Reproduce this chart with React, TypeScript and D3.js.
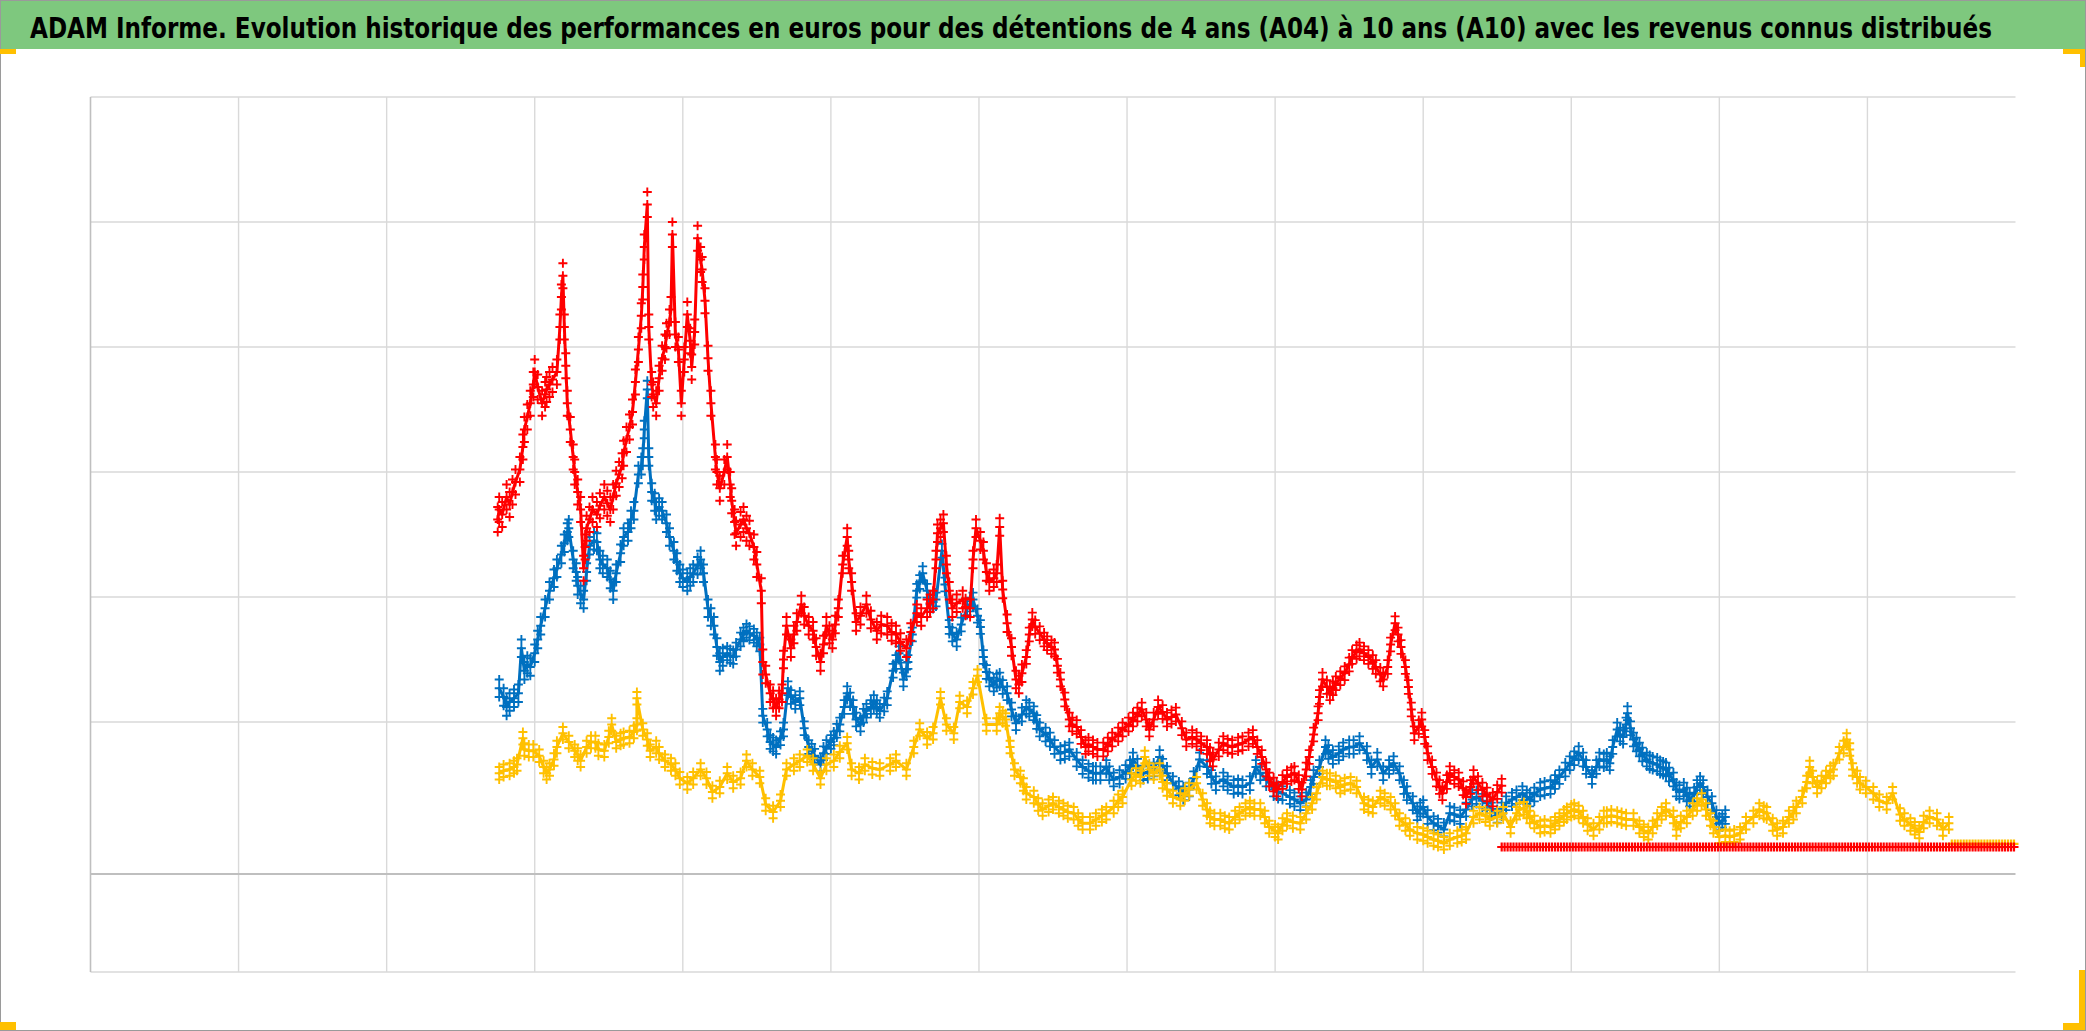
import React, { useEffect } from "react";
import * as d3 from "d3";

const TITLE =
  "ADAM Informe. Evolution historique des performances en euros pour des détentions de 4 ans (A04) à 10 ans (A10) avec les revenus connus distribués";

// x in period units (one vertical gridline per unit), y in value units
const X_DOMAIN: [number, number] = [0, 13];
const Y_DOMAIN: [number, number] = [-1, 6];
const X_GRID = [1, 2, 3, 4, 5, 6, 7, 8, 9, 10, 11, 12];
const Y_GRID = [-1, 1, 2, 3, 4, 5, 6];
const AXIS_VALUE = -0.216;

const RED = "#FF0000";
const BLUE = "#0070C0";
const YELLOW = "#FFC000";

// A10 (red)
const A10: [number, number][] = [
  [2.75,2.62],[2.76,2.70],[2.78,2.66],[2.81,2.80],[2.83,2.74],[2.85,2.84],[2.87,2.92],[2.90,3.02],[2.92,3.20],[2.93,3.34],
  [2.95,3.44],[2.97,3.55],[2.99,3.70],[3.00,3.80],[3.02,3.68],[3.05,3.55],[3.07,3.62],[3.08,3.66],[3.10,3.70],[3.12,3.74],
  [3.15,3.80],[3.17,4.16],[3.18,4.40],[3.19,4.57],[3.20,4.16],[3.21,3.85],[3.22,3.55],[3.24,3.34],[3.26,3.12],[3.27,3.00],
  [3.29,2.84],[3.31,2.70],[3.33,2.23],[3.34,2.40],[3.35,2.55],[3.37,2.62],[3.39,2.70],[3.42,2.66],[3.44,2.73],[3.47,2.80],
  [3.49,2.75],[3.51,2.70],[3.53,2.80],[3.55,2.91],[3.57,2.98],[3.59,3.05],[3.60,3.15],[3.62,3.26],[3.64,3.36],[3.66,3.48],
  [3.68,3.72],[3.70,3.98],[3.72,4.25],[3.73,4.48],[3.74,4.80],[3.76,5.14],[3.77,4.16],[3.79,3.70],[3.80,3.62],[3.82,3.55],
  [3.84,3.75],[3.86,3.91],[3.88,4.00],[3.89,4.09],[3.91,4.20],[3.92,4.30],[3.93,4.90],[3.95,4.10],[3.97,3.98],[3.99,3.55],
  [4.01,3.90],[4.03,4.26],[4.05,4.05],[4.06,3.84],[4.08,4.12],[4.10,4.87],[4.12,4.70],[4.13,4.62],[4.15,4.37],[4.17,3.91],
  [4.19,3.55],[4.22,3.12],[4.23,3.00],[4.25,2.87],[4.28,3.00],[4.30,3.12],[4.32,2.90],[4.33,2.77],[4.35,2.60],[4.36,2.51],
  [4.39,2.58],[4.41,2.62],[4.43,2.55],[4.45,2.51],[4.48,2.40],[4.50,2.26],[4.53,2.05],[4.54,1.48],[4.56,1.38],[4.59,1.23],
  [4.61,1.18],[4.63,1.12],[4.65,1.18],[4.67,1.23],[4.68,1.50],[4.70,1.77],[4.73,1.59],[4.75,1.70],[4.77,1.80],[4.80,1.94],
  [4.82,1.85],[4.85,1.77],[4.88,1.73],[4.90,1.60],[4.93,1.48],[4.95,1.62],[4.97,1.77],[4.99,1.70],[5.01,1.66],[5.03,1.78],
  [5.05,1.91],[5.08,2.26],[5.11,2.48],[5.12,2.30],[5.14,2.12],[5.17,1.80],[5.20,1.85],[5.24,1.94],[5.27,1.82],[5.31,1.73],
  [5.34,1.78],[5.38,1.77],[5.41,1.72],[5.44,1.70],[5.47,1.64],[5.51,1.59],[5.54,1.72],[5.58,1.87],[5.61,1.84],[5.65,1.91],
  [5.67,1.95],[5.69,1.98],[5.71,2.30],[5.72,2.51],[5.74,2.55],[5.76,2.59],[5.78,2.26],[5.80,2.05],[5.82,1.91],[5.85,1.95],
  [5.89,1.98],[5.91,1.92],[5.94,1.91],[5.96,2.30],[5.98,2.55],[6.01,2.45],[6.03,2.37],[6.05,2.20],[6.07,2.12],[6.10,2.15],
  [6.12,2.19],[6.14,2.56],[6.16,2.06],[6.19,1.79],[6.22,1.60],[6.25,1.34],[6.27,1.30],[6.29,1.39],[6.32,1.52],[6.34,1.70],
  [6.36,1.82],[6.38,1.76],[6.41,1.71],[6.44,1.66],[6.46,1.63],[6.49,1.60],[6.51,1.58],[6.53,1.45],[6.55,1.34],[6.58,1.18],
  [6.61,1.02],[6.63,0.98],[6.66,0.96],[6.69,0.88],[6.72,0.80],[6.74,0.82],[6.77,0.80],[6.80,0.78],[6.84,0.78],[6.87,0.82],
  [6.90,0.86],[6.94,0.90],[6.97,0.94],[7.01,0.98],[7.04,1.02],[7.07,1.06],[7.10,1.10],[7.13,1.02],[7.15,0.94],[7.18,1.02],
  [7.21,1.12],[7.24,1.08],[7.27,1.02],[7.30,1.04],[7.33,1.06],[7.37,0.95],[7.40,0.86],[7.44,0.88],[7.47,0.86],[7.50,0.83],
  [7.54,0.80],[7.56,0.74],[7.58,0.70],[7.62,0.78],[7.65,0.83],[7.68,0.81],[7.71,0.80],[7.75,0.82],[7.78,0.83],[7.82,0.86],
  [7.85,0.88],[7.88,0.80],[7.91,0.72],[7.94,0.62],[7.96,0.54],[7.99,0.50],[8.01,0.46],[8.05,0.52],[8.08,0.56],[8.11,0.58],
  [8.13,0.59],[8.16,0.52],[8.18,0.46],[8.21,0.62],[8.23,0.72],[8.26,0.90],[8.29,1.07],[8.30,1.20],[8.32,1.34],[8.35,1.28],
  [8.37,1.23],[8.39,1.27],[8.41,1.31],[8.44,1.35],[8.47,1.39],[8.50,1.46],[8.52,1.52],[8.55,1.56],[8.57,1.58],[8.60,1.55],
  [8.63,1.52],[8.66,1.48],[8.68,1.44],[8.71,1.38],[8.73,1.34],[8.76,1.44],[8.78,1.62],[8.81,1.79],[8.83,1.70],[8.85,1.60],
  [8.88,1.44],[8.90,1.28],[8.92,1.10],[8.94,0.91],[8.97,0.96],[8.99,1.02],[9.01,0.88],[9.03,0.75],[9.06,0.64],[9.09,0.54],
  [9.11,0.48],[9.13,0.43],[9.16,0.52],[9.18,0.59],[9.21,0.56],[9.24,0.54],[9.27,0.47],[9.29,0.40],[9.32,0.48],[9.34,0.56],
  [9.37,0.51],[9.40,0.46],[9.43,0.42],[9.47,0.38],[9.50,0.44],[9.53,0.49],
];

// A07 (blue)
const A07: [number, number][] = [
  [2.76,1.27],[2.79,1.20],[2.81,1.12],[2.83,1.16],[2.86,1.19],[2.89,1.23],[2.91,1.59],[2.93,1.41],[2.95,1.46],[2.97,1.44],
  [3.00,1.55],[3.02,1.66],[3.04,1.77],[3.07,1.91],[3.10,2.05],[3.13,2.15],[3.15,2.23],[3.18,2.34],[3.20,2.43],[3.22,2.52],
  [3.23,2.55],[3.26,2.30],[3.28,2.20],[3.29,2.09],[3.31,2.02],[3.33,1.98],[3.35,2.20],[3.37,2.41],[3.40,2.45],[3.42,2.44],
  [3.44,2.30],[3.46,2.26],[3.49,2.23],[3.51,2.14],[3.53,2.05],[3.55,2.19],[3.58,2.35],[3.60,2.48],[3.63,2.52],[3.65,2.62],
  [3.67,2.69],[3.70,2.98],[3.72,3.05],[3.73,3.12],[3.74,3.34],[3.76,3.66],[3.77,3.12],[3.79,2.84],[3.81,2.76],[3.82,2.69],
  [3.84,2.72],[3.86,2.69],[3.89,2.59],[3.91,2.48],[3.94,2.37],[3.96,2.28],[3.98,2.19],[4.00,2.15],[4.03,2.12],[4.05,2.16],
  [4.07,2.19],[4.10,2.25],[4.12,2.30],[4.14,2.19],[4.17,1.91],[4.19,1.84],[4.21,1.77],[4.23,1.60],[4.25,1.48],[4.27,1.52],
  [4.30,1.55],[4.32,1.53],[4.34,1.52],[4.36,1.58],[4.39,1.66],[4.41,1.70],[4.43,1.73],[4.45,1.71],[4.48,1.69],[4.50,1.66],
  [4.52,1.62],[4.54,1.05],[4.57,0.94],[4.59,0.84],[4.61,0.82],[4.63,0.80],[4.66,0.87],[4.68,0.94],[4.71,1.27],[4.73,1.20],
  [4.76,1.16],[4.79,1.19],[4.82,0.95],[4.85,0.80],[4.87,0.77],[4.89,0.73],[4.93,0.66],[4.95,0.75],[4.97,0.80],[5.00,0.84],
  [5.02,0.87],[5.04,0.93],[5.06,0.98],[5.09,1.12],[5.11,1.23],[5.13,1.18],[5.15,1.12],[5.17,1.02],[5.20,0.98],[5.22,1.05],
  [5.24,1.09],[5.27,1.12],[5.29,1.16],[5.31,1.12],[5.33,1.09],[5.36,1.14],[5.38,1.19],[5.42,1.41],[5.44,1.48],[5.46,1.55],
  [5.49,1.34],[5.51,1.42],[5.52,1.48],[5.55,1.70],[5.58,2.05],[5.60,2.12],[5.62,2.19],[5.65,2.05],[5.67,1.94],[5.69,1.96],
  [5.71,1.98],[5.75,2.37],[5.77,2.10],[5.80,1.76],[5.82,1.70],[5.85,1.66],[5.88,1.78],[5.92,1.91],[5.94,1.94],[5.96,1.98],
  [5.99,1.85],[6.01,1.76],[6.03,1.52],[6.05,1.40],[6.07,1.34],[6.10,1.30],[6.12,1.33],
  [6.14,1.34],[6.16,1.28],[6.19,1.23],[6.22,1.10],[6.25,0.99],[6.29,1.06],[6.32,1.12],[6.34,1.10],[6.37,1.07],[6.39,1.00],
  [6.41,0.94],[6.45,0.90],[6.48,0.86],[6.51,0.80],[6.55,0.75],[6.58,0.76],[6.61,0.78],[6.66,0.70],[6.70,0.64],[6.74,0.61],
  [6.77,0.59],[6.79,0.59],[6.82,0.59],[6.86,0.64],[6.88,0.59],[6.91,0.54],[6.95,0.56],[6.99,0.60],[7.02,0.64],[7.04,0.70],
  [7.07,0.65],[7.11,0.59],[7.14,0.60],[7.18,0.62],[7.22,0.72],[7.24,0.65],[7.27,0.59],[7.31,0.51],[7.35,0.47],[7.38,0.43],
  [7.42,0.46],[7.45,0.55],[7.49,0.70],[7.54,0.64],[7.57,0.56],[7.60,0.51],[7.65,0.54],[7.68,0.51],[7.72,0.48],[7.75,0.49],
  [7.78,0.48],[7.83,0.51],[7.87,0.64],[7.90,0.59],[7.94,0.54],[7.99,0.46],[8.02,0.44],[8.05,0.43],[8.10,0.40],[8.13,0.38],
  [8.17,0.35],[8.21,0.38],[8.24,0.48],[8.26,0.56],[8.30,0.64],[8.34,0.80],[8.36,0.76],[8.39,0.72],[8.43,0.75],[8.46,0.78],
  [8.50,0.80],[8.53,0.80],[8.57,0.83],[8.62,0.75],[8.65,0.64],[8.69,0.70],[8.73,0.59],[8.77,0.64],[8.80,0.67],[8.84,0.59],
  [8.87,0.48],[8.89,0.43],[8.93,0.35],[8.96,0.27],[8.98,0.30],[9.00,0.32],[9.03,0.24],[9.07,0.19],[9.10,0.17],[9.14,0.14],
  [9.18,0.27],[9.21,0.26],[9.25,0.24],[9.29,0.30],[9.33,0.38],[9.36,0.40],[9.40,0.37],[9.43,0.35],[9.46,0.30],[9.50,0.25],
  [9.53,0.30],[9.56,0.35],[9.60,0.38],[9.63,0.40],
  [9.67,0.43],[9.70,0.40],[9.72,0.38],[9.75,0.42],[9.79,0.46],[9.82,0.47],[9.86,0.48],[9.89,0.52],[9.92,0.56],[9.96,0.62],
  [9.99,0.67],[10.02,0.71],[10.05,0.75],[10.08,0.70],[10.10,0.64],[10.14,0.56],[10.17,0.64],[10.19,0.70],[10.22,0.69],[10.24,0.70],
  [10.26,0.67],[10.28,0.80],[10.31,0.94],[10.33,0.90],[10.35,0.88],[10.37,0.98],[10.38,1.07],[10.40,0.95],[10.42,0.86],[10.44,0.82],
  [10.46,0.78],[10.48,0.74],[10.51,0.70],[10.53,0.68],[10.55,0.67],[10.58,0.66],[10.60,0.64],[10.62,0.63],[10.64,0.62],[10.66,0.58],
  [10.69,0.54],[10.71,0.46],[10.73,0.44],[10.76,0.46],[10.78,0.42],[10.80,0.38],[10.83,0.42],[10.85,0.48],[10.87,0.51],[10.89,0.48],
  [10.92,0.40],[10.95,0.35],[10.98,0.24],[11.00,0.19],[11.02,0.21],[11.04,0.24],
];

// A04 (yellow)
const A04: [number, number][] = [
  [2.76,0.59],[2.79,0.61],[2.83,0.62],[2.86,0.64],[2.88,0.66],[2.92,0.87],[2.93,0.78],[2.96,0.77],[2.99,0.77],[3.03,0.73],
  [3.06,0.64],[3.08,0.59],[3.10,0.62],[3.13,0.70],[3.15,0.80],[3.19,0.91],[3.23,0.84],[3.27,0.77],[3.29,0.74],[3.31,0.69],
  [3.35,0.80],[3.38,0.84],[3.41,0.84],[3.43,0.78],[3.47,0.77],[3.50,0.88],[3.52,0.98],[3.55,0.84],[3.58,0.86],[3.60,0.87],
  [3.64,0.88],[3.67,0.92],[3.69,0.98],[3.69,1.19],[3.73,0.94],[3.76,0.86],[3.78,0.77],[3.82,0.80],[3.84,0.75],[3.88,0.69],
  [3.92,0.66],[3.95,0.62],[3.98,0.55],[4.03,0.51],[4.07,0.55],[4.12,0.62],[4.16,0.55],[4.20,0.44],[4.25,0.48],[4.30,0.59],
  [4.34,0.52],[4.39,0.55],[4.43,0.69],[4.47,0.62],[4.52,0.56],[4.56,0.34],[4.61,0.28],[4.66,0.37],[4.70,0.62],[4.75,0.66],
  [4.79,0.69],[4.84,0.73],[4.88,0.66],[4.93,0.55],[4.97,0.66],[5.02,0.69],[5.06,0.76],[5.11,0.83],[5.14,0.62],[5.19,0.59],
  [5.23,0.66],[5.28,0.63],[5.33,0.62],[5.40,0.66],[5.44,0.69],[5.51,0.62],[5.56,0.80],[5.60,0.94],[5.65,0.87],[5.69,0.91],
  [5.74,1.19],[5.78,0.98],[5.83,0.91],[5.87,1.16],[5.92,1.12],[5.96,1.27],[5.99,1.37],[6.05,0.98],[6.12,0.98],
  [6.14,1.07],[6.16,1.04],[6.18,1.02],[6.21,0.80],[6.24,0.62],[6.28,0.56],[6.30,0.50],[6.32,0.43],[6.37,0.40],[6.40,0.34],
  [6.43,0.30],[6.47,0.33],[6.50,0.35],[6.54,0.32],[6.57,0.30],[6.60,0.28],[6.64,0.27],[6.67,0.22],[6.70,0.19],[6.75,0.19],
  [6.79,0.22],[6.83,0.25],[6.86,0.27],[6.91,0.32],[6.94,0.37],[6.97,0.40],[7.03,0.54],[7.06,0.58],[7.09,0.56],[7.12,0.72],
  [7.15,0.62],[7.18,0.59],[7.22,0.62],[7.24,0.52],[7.27,0.46],[7.31,0.40],[7.36,0.38],[7.39,0.42],[7.42,0.46],[7.47,0.51],
  [7.51,0.38],[7.54,0.30],[7.56,0.24],[7.59,0.22],[7.63,0.22],[7.66,0.20],[7.69,0.19],[7.73,0.24],[7.76,0.27],[7.80,0.30],
  [7.83,0.32],[7.86,0.30],[7.90,0.30],[7.93,0.24],[7.96,0.16],[8.00,0.13],[8.02,0.11],[8.05,0.18],[8.08,0.22],[8.12,0.20],
  [8.17,0.19],[8.21,0.27],[8.25,0.35],[8.28,0.43],[8.32,0.56],[8.35,0.54],[8.37,0.54],[8.41,0.52],[8.44,0.48],[8.47,0.50],
  [8.51,0.51],[8.55,0.48],[8.60,0.35],[8.63,0.33],[8.66,0.32],[8.71,0.40],[8.74,0.38],[8.78,0.35],[8.81,0.30],[8.84,0.22],
  [8.88,0.18],[8.91,0.14],[8.96,0.11],[9.00,0.10],[9.03,0.08],[9.07,0.06],[9.10,0.05],[9.14,0.03],[9.18,0.06],[9.23,0.08],
  [9.26,0.09],[9.29,0.11],[9.34,0.24],[9.38,0.27],[9.42,0.25],[9.45,0.22],[9.50,0.24],[9.54,0.27],[9.59,0.16],[9.63,0.27],
  [9.65,0.30],[9.68,0.31],[9.70,0.28],[9.72,0.24],[9.75,0.20],[9.79,0.16],[9.82,0.17],[9.86,0.16],[9.89,0.19],[9.92,0.22],
  [9.95,0.25],[9.97,0.27],[10.00,0.29],[10.02,0.30],[10.05,0.28],[10.08,0.24],[10.11,0.18],[10.15,0.14],[10.19,0.19],[10.22,0.24],
  [10.24,0.24],[10.27,0.25],[10.31,0.24],[10.34,0.23],[10.37,0.22],[10.42,0.22],[10.46,0.16],[10.49,0.13],[10.52,0.11],[10.55,0.16],
  [10.58,0.22],[10.61,0.27],[10.64,0.30],[10.69,0.24],[10.71,0.14],[10.74,0.20],[10.78,0.24],[10.82,0.30],[10.85,0.34],[10.88,0.38],
  [10.91,0.30],[10.94,0.22],[10.96,0.16],[11.00,0.08],[11.04,0.09],[11.07,0.08],[11.10,0.09],[11.14,0.11],[11.18,0.19],[11.23,0.24],
  [11.27,0.30],[11.30,0.28],[11.32,0.27],[11.36,0.18],[11.39,0.14],[11.43,0.16],[11.47,0.24],[11.50,0.27],[11.52,0.32],[11.56,0.40],
  [11.59,0.52],[11.61,0.64],[11.63,0.56],[11.66,0.48],[11.69,0.52],[11.72,0.56],[11.75,0.60],[11.77,0.62],[11.81,0.75],[11.84,0.80],
  [11.86,0.86],[11.88,0.78],[11.90,0.62],[11.93,0.56],[11.95,0.51],[11.99,0.48],[12.04,0.43],[12.08,0.37],[12.13,0.35],[12.17,0.43],
  [12.22,0.26],[12.25,0.22],[12.29,0.18],[12.32,0.15],[12.35,0.12],[12.38,0.20],[12.42,0.24],[12.47,0.22],[12.51,0.14],[12.55,0.19],
];

// day-to-day scatter half-width of each series' marker cloud, by x range (value units)
const SCATTER_A10: [number, number, number][] = [[2.7, 4.55, 0.1], [4.55, 6.3, 0.07], [6.3, 9.6, 0.055]];
const SCATTER_A07: [number, number, number][] = [[2.7, 4.3, 0.07], [4.3, 11.1, 0.055]];
const SCATTER_A04: [number, number, number][] = [[2.7, 12.6, 0.05]];

// constant tails (after each series' last known value)
const FLAT_TAILS = [
  { color: YELLOW, from: 12.57, to: 13.0, value: 0.025 },
  { color: RED, from: 9.53, to: 13.0, value: 0 },
];
const TAIL_STEP = 0.02;

export default function App() {
  useEffect(() => {
    document.body.style.margin = "0";
    document.body.style.overflow = "hidden";
  }, []);

  const W = 2086;
  const H = 1031;
  const x = d3.scaleLinear().domain(X_DOMAIN).range([90.5, 2015.5]);
  const y = d3.scaleLinear().domain(Y_DOMAIN).range([972, 97]);
  const arm = 4.5;

  const spreadAt = (table: [number, number, number][], u: number) => {
    const seg = table.find(([a, b]) => u >= a && u < b);
    return seg ? seg[2] : 0;
  };

  const plusPath = (pts: [number, number][], table?: [number, number, number][]) =>
    pts
      .map(([u, v]) => {
        const px = x(u);
        const s = table ? spreadAt(table, u) : 0;
        const offs = s ? [v - s, v, v + s] : [v];
        return offs
          .map((vv) => {
            const py = y(vv);
            return `M${(px - arm).toFixed(1)},${py.toFixed(1)}h${2 * arm}M${px.toFixed(1)},${(py - arm).toFixed(1)}v${2 * arm}`;
          })
          .join("");
      })
      .join("");

  const band = d3
    .line<[number, number]>()
    .x((d) => x(d[0]))
    .y((d) => y(d[1]));

  const tailPts = (t: { from: number; to: number; value: number }) =>
    d3.range(t.from, t.to + 1e-9, TAIL_STEP).map((u) => [u, t.value] as [number, number]);

  const [x0, x1] = x.range();

  const series = [
    { data: A07, color: BLUE, scatter: SCATTER_A07 },
    { data: A04, color: YELLOW, scatter: SCATTER_A04 },
    { data: A10, color: RED, scatter: SCATTER_A10 },
  ];

  return (
    <div style={{ position: "absolute", left: 0, top: 0 }}>
      <svg width={W} height={H} style={{ display: "block", background: "#fff" }}>
        <rect x={0} y={0} width={W} height={H} fill="#fff" />
        {/* title bar */}
        <rect x={0} y={0} width={W} height={49} fill="#7EC87E" />
        <g transform="translate(30,38) scale(1,1.27)">
          <text
            x={0}
            y={0}
            fontFamily="'Liberation Sans Narrow', 'DejaVu Sans Condensed', 'Open Sans', sans-serif"
            fontWeight={700}
            fontSize={23}
            textLength={1962}
            lengthAdjust="spacingAndGlyphs"
            fill="#000"
          >
            {TITLE}
          </text>
        </g>

        {/* gridlines */}
        {Y_GRID.map((v) => (
          <line key={"h" + v} x1={x0} x2={x1} y1={y(v)} y2={y(v)} stroke="#D9D9D9" strokeWidth={1.4} />
        ))}
        {X_GRID.map((u) => (
          <line key={"v" + u} x1={x(u)} x2={x(u)} y1={y(Y_DOMAIN[1])} y2={y(Y_DOMAIN[0])} stroke="#D9D9D9" strokeWidth={1.4} />
        ))}
        <line x1={x0} x2={x0} y1={y(Y_DOMAIN[1])} y2={y(Y_DOMAIN[0])} stroke="#BFBFBF" strokeWidth={1.6} />
        <line x1={x0} x2={x1} y1={y(AXIS_VALUE)} y2={y(AXIS_VALUE)} stroke="#BFBFBF" strokeWidth={2} />

        {/* series: dense daily "+" markers */}
        {series.map((s, i) => (
          <g key={"s" + i}>
            <path d={band(s.data) || ""} stroke={s.color} strokeWidth={3} strokeLinejoin="round" strokeLinecap="round" fill="none" />
            <path d={plusPath(s.data, s.scatter)} stroke={s.color} strokeWidth={1.9} fill="none" />
          </g>
        ))}
        {FLAT_TAILS.map((t, i) => (
          <path key={"t" + i} d={plusPath(tailPts(t))} stroke={t.color} strokeWidth={2.2} fill="none" />
        ))}

        {/* frame and selection handles */}
        <rect x={0.5} y={0.5} width={W - 1} height={H - 1} fill="none" stroke="#9A9A9A" strokeWidth={1} />
        <rect x={0} y={49} width={16} height={5} fill={YELLOW} />
        <rect x={2063} y={49} width={22} height={5} fill={YELLOW} />
        <rect x={2080} y={49} width={5} height={18} fill={YELLOW} />
        <rect x={0} y={1022} width={16} height={8} fill={YELLOW} />
        <rect x={2063} y={1023} width={22} height={7} fill={YELLOW} />
        <rect x={2079} y={970} width={6} height={60} fill={YELLOW} />
      </svg>
    </div>
  );
}
